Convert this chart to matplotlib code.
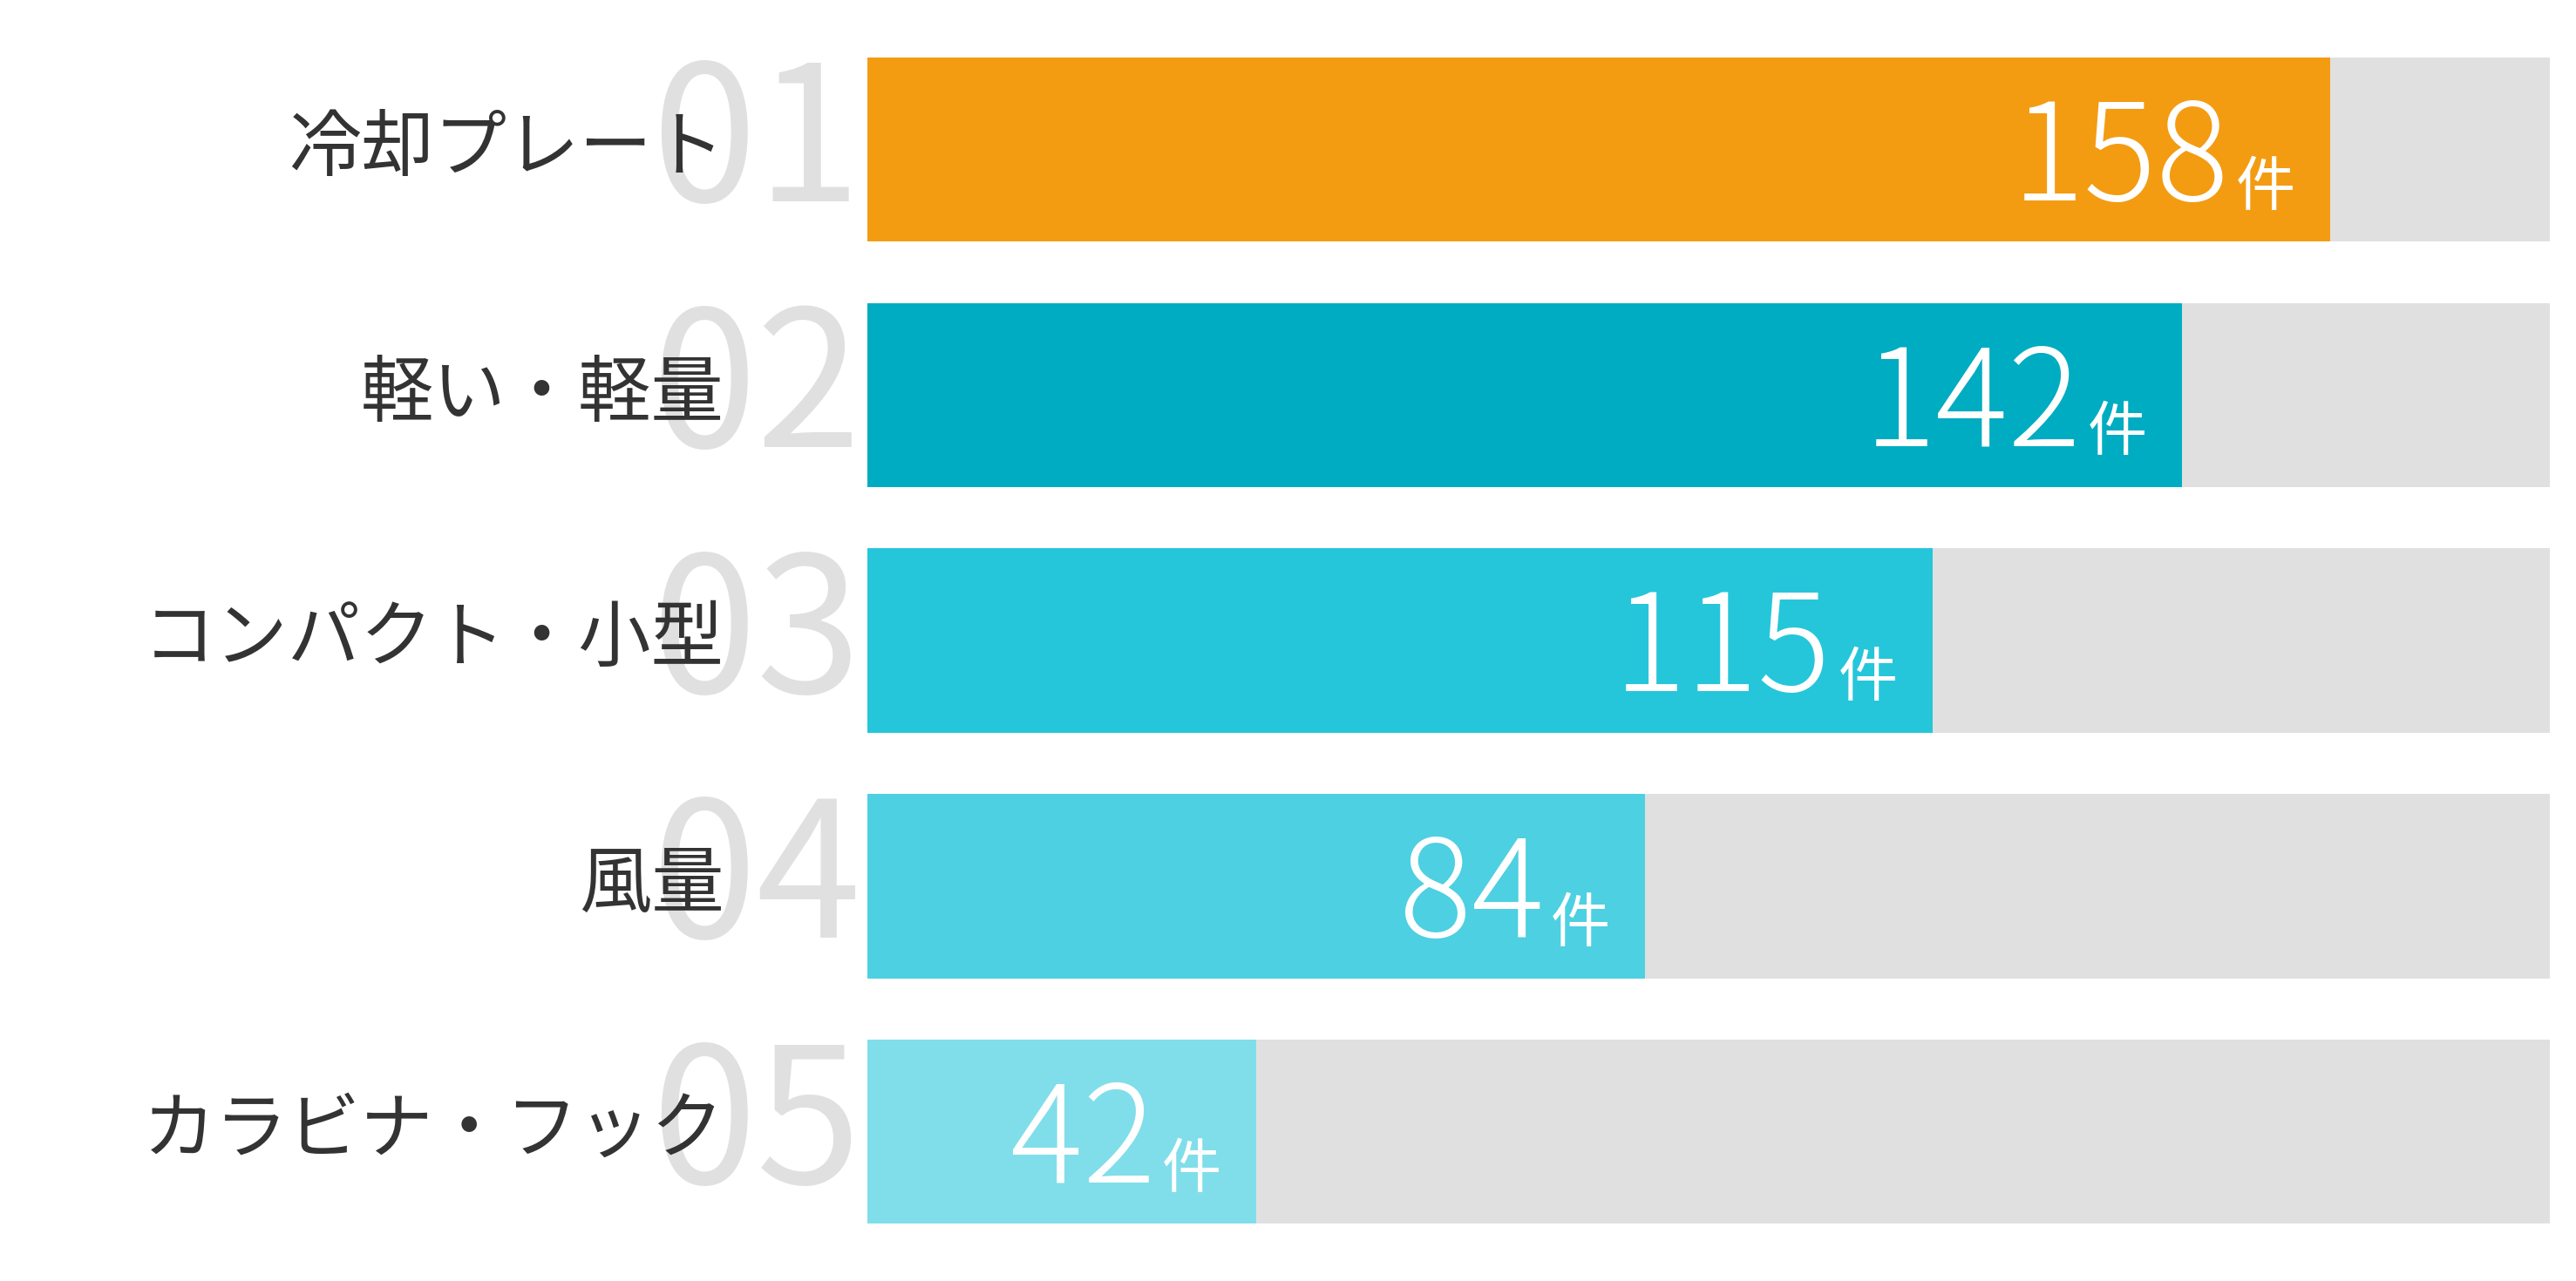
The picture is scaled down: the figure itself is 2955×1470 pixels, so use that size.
import matplotlib
matplotlib.use("Agg")
import matplotlib.pyplot as plt

# data
labels = ["冷却プレート", "軽い・軽量", "コンパクト・小型", "風量", "カラビナ・フック"]
ranks = ["01", "02", "03", "04", "05"]
counts = [158, 142, 115, 84, 42]
colors = ["#F39C12", "#00ACC1", "#26C6DA", "#4DD0E1", "#80DEEA"]
unit = "件"

plt.rcParams['font.family'] = ['Noto Sans CJK JP', 'DejaVu Sans']

DPI = 100
fig = plt.figure(figsize=(29.55, 14.7), dpi=DPI)
ax = fig.add_axes([995 / 2955, 0, 1930 / 2955, 1])

def px(p):
    # pixels -> points
    return p * 72 / DPI

xmax = max(counts) * 1.15
y = list(range(len(counts)))

ax.barh(y, [xmax] * len(counts), height=0.75, color="#E0E0E0", zorder=1)
ax.barh(y, counts, height=0.75, color=colors, zorder=2)

for i in y:
    # big gray rank number behind the label
    ax.annotate(ranks[i], xy=(0, i), xytext=(px(-7), px(2)), textcoords='offset points',
                ha='right', va='center', fontsize=156, fontweight='normal',
                color="#E0E0E0", zorder=0)
    ax.annotate(labels[i], xy=(0, i), xytext=(px(-164), px(1)), textcoords='offset points',
                ha='right', va='center', fontsize=60, color="#333333", zorder=3)
    # value + unit inside the bar end
    ax.annotate(unit, xy=(counts[i], i), xytext=(px(-40), px(-64)), textcoords='offset points',
                ha='right', va='baseline', fontsize=49, color="white", zorder=4)
    ax.annotate(str(counts[i]), xy=(counts[i], i), xytext=(px(-116), px(-58)), textcoords='offset points',
                ha='right', va='baseline', fontsize=112, fontweight='light', color="white", zorder=4)

ax.set_xlim(0, xmax)
ax.set_ylim(4.608, -0.609)
ax.axis('off')

fig.savefig("out.png", dpi=DPI, facecolor="white")
